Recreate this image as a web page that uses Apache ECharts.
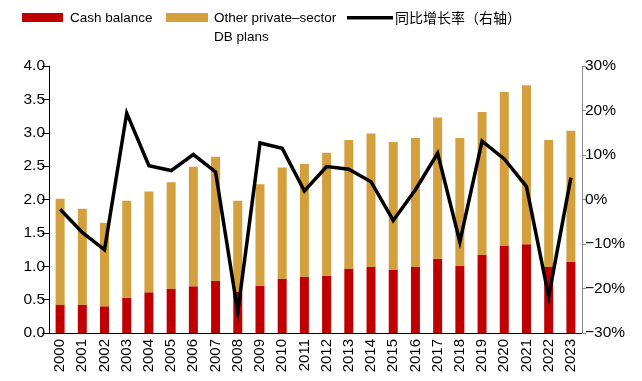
<!DOCTYPE html>
<html>
<head>
<meta charset="utf-8">
<script src="https://cdn.jsdelivr.net/npm/echarts@6/dist/echarts.min.js"></script>
<style>
  html, body { margin: 0; padding: 0; background: #fff; }
  #chart { width: 642px; height: 381px; }
</style>
</head>
<body>
<div id="chart"></div>
<script>
// Years on the category axis
const years = ['2000','2001','2002','2003','2004','2005','2006','2007','2008','2009','2010','2011',
               '2012','2013','2014','2015','2016','2017','2018','2019','2020','2021','2022','2023'];
// Cash balance plan assets (left axis)
const cashBalance = [0.42,0.42,0.40,0.53,0.61,0.66,0.70,0.78,0.62,0.71,0.81,0.84,
                     0.86,0.96,0.99,0.95,0.99,1.11,1.01,1.17,1.31,1.33,0.99,1.07];
// Total private-sector DB plan assets (cash balance + other)
const totalDB = [2.01,1.86,1.65,1.98,2.12,2.26,2.49,2.64,1.98,2.23,2.48,2.53,
                 2.70,2.89,2.99,2.86,2.92,3.23,2.92,3.31,3.61,3.71,2.89,3.03];
// Other private-sector DB plans (stacked on top of cash balance)
const otherDB = totalDB.map((t, i) => +(t - cashBalance[i]).toFixed(2));
// Year-over-year growth, % (right axis)
const yoyGrowth = [-2.2,-7.4,-11.3,19.4,7.6,6.5,10.1,6.2,-25.3,12.7,11.5,1.9,
                   7.4,6.8,4.0,-4.7,2.2,10.4,-9.5,13.1,9.1,2.9,-21.8,4.9];
// Axis tick settings
const leftAxis = { min: 0, max: 4, interval: 0.5 };
const rightAxis = { min: -30, max: 30, interval: 10 };

const RED = '#C00000';
const GOLD = '#D4A03E';
const font = 'Liberation Sans, Arial, sans-serif';
const cjkFont = 'Noto Sans CJK SC, sans-serif';
const chart = echarts.init(document.getElementById('chart'), null, { renderer: 'canvas' });

// Legend drawn as simple shapes and text
const legendText = (x, y, text, family, size) => ({
  type: 'text', left: x, top: y,
  style: { text, fill: '#000', font: size + 'px ' + family, lineHeight: 19 }
});

chart.setOption({
  animation: false,
  textStyle: { fontFamily: font },
  graphic: [
    { type: 'rect', shape: { x: 22, y: 13, width: 41, height: 9 }, style: { fill: RED } },
    legendText(70, 9, 'Cash balance', font, 13.5),
    { type: 'rect', shape: { x: 166, y: 13, width: 42, height: 9 }, style: { fill: GOLD } },
    legendText(214, 9, 'Other private\u2013sector\nDB plans', font, 13.5),
    { type: 'rect', shape: { x: 347, y: 16, width: 46, height: 3.5 }, style: { fill: '#000' } },
    legendText(395, 8, '同比增长率（右轴）', cjkFont, 14)
  ],
  grid: { left: 49, right: 60, top: 66, bottom: 48, containLabel: false },
  xAxis: {
    type: 'category',
    data: years,
    axisLine: { lineStyle: { color: '#000', width: 1 } },
    axisTick: { alignWithLabel: false, length: 5, lineStyle: { color: '#000' } },
    axisLabel: { rotate: 90, fontSize: 15, color: '#000', margin: 6, fontFamily: font, interval: 0 }
  },
  yAxis: [
    {
      type: 'value', min: leftAxis.min, max: leftAxis.max, interval: leftAxis.interval,
      axisLine: { show: true, lineStyle: { color: '#000' } },
      axisTick: { show: true, length: 7, lineStyle: { color: '#000' } },
      splitLine: { show: false },
      axisLabel: { fontSize: 15.5, color: '#000', margin: 4, fontFamily: font,
                   formatter: v => v.toFixed(1) }
    },
    {
      type: 'value', min: rightAxis.min, max: rightAxis.max, interval: rightAxis.interval,
      position: 'right',
      axisLine: { show: true, lineStyle: { color: '#888' } },
      axisTick: { show: true, length: 4, lineStyle: { color: '#888' } },
      splitLine: { show: false },
      axisLabel: { fontSize: 15.5, color: '#000', margin: 3, fontFamily: font,
                   formatter: v => (v < 0 ? '\u2212' + Math.abs(v) : v) + '%' }
    }
  ],
  series: [
    {
      name: 'Cash balance', type: 'bar', stack: 'db', data: cashBalance,
      barWidth: 9, itemStyle: { color: RED }
    },
    {
      name: 'Other private-sector DB plans', type: 'bar', stack: 'db', data: otherDB,
      barWidth: 9, itemStyle: { color: GOLD }
    },
    {
      name: '同比增长率（右轴）', type: 'line', yAxisIndex: 1, data: yoyGrowth,
      symbol: 'none', lineStyle: { color: '#000', width: 3.5, join: 'miter' }, itemStyle: { color: '#000' }
    }
  ]
});
</script>
</body>
</html>
